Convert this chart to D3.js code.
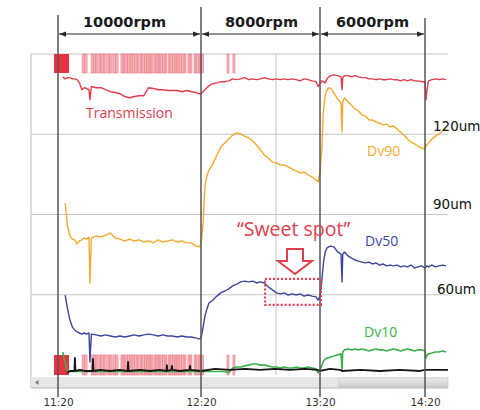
<!DOCTYPE html>
<html>
<head>
<meta charset="utf-8">
<script src="https://cdn.jsdelivr.net/npm/d3@7"></script>
<style>
  html, body { margin: 0; padding: 0; background: #fff; }
  svg { display: block; }
</style>
</head>
<body>
<svg id="chart" width="480" height="410"></svg>
<script>
// Sample times, minutes after 11:20
const minutes = [
  2, 3, 4, 5, 6, 7, 8, 9, 10, 11, 12, 13, 13.4, 14,
  16, 18, 20, 22, 24, 26, 28, 30, 32, 34, 36, 38, 40, 42, 44, 46, 48, 50, 52, 54, 56, 58,
  59, 60, 61, 62, 63, 64,
  66, 68, 70, 72, 74, 76, 78, 80, 82, 84, 86, 88, 90, 92, 94, 96, 98, 100, 102, 104, 106, 108, 110, 112, 114, 116, 118,
  119, 120, 121, 122, 123, 124, 125, 126,
  128, 130, 132, 132.6, 133,
  134, 136, 138, 140, 142, 144, 146, 148, 150, 152, 154, 156, 158, 160, 162, 164, 166, 168, 170, 172, 174, 176, 178, 180,
  180.6, 181, 182, 184, 186, 188, 190, 192
];

// Laser transmission, %
const transmission = [
  94.3, 93.8, 94.1, 94.1, 93.8, 93.8, 93.6, 92.8, 91.1, 91.6, 91.4, 91.1, 88.6, 91.9,
  91.6, 91.6, 91.1, 90.6, 90.4, 90.1, 89.4, 89.1, 89.4, 89.6, 89.6, 91.6, 91.4, 91.1, 91.1, 90.9, 90.9, 90.9, 90.6, 90.9, 90.6, 90.4,
  90.1, 90.1, 90.6, 91.1, 91.6, 92.1,
  92.6, 92.8, 93.1, 93.1, 93.3, 93.8, 93.6, 93.8, 94.1, 93.6, 93.8, 93.6, 93.8, 94.1, 93.8, 93.6, 93.8, 93.6, 93.8, 93.6, 93.8, 93.6, 93.3, 93.8, 93.6, 93.3, 93.1,
  91.9, 92.6, 93.3, 93.1, 92.8, 93.8, 94.3, 94.6,
  94.8, 94.6, 94.3, 91.1, 94.1,
  94.6, 94.6, 94.3, 94.6, 94.3, 94.1, 94.1, 93.8, 93.8, 93.6, 93.8, 93.6, 93.6, 93.8, 93.6, 93.6, 93.3, 93.6, 93.3, 93.6, 93.3, 93.3, 93.1, 93.1,
  88.6, 90.6, 93.3, 93.6, 93.8, 93.6, 93.8, 93.6
];

// Particle size Dv90, um
const dv90 = [
  null, 94.3, 85.7, 82.0, 80.8, 80.5, 79.0, 80.1, 80.5, 81.2, 80.8, 81.6, 64.4, 81.2,
  82.0, 81.6, 82.3, 83.1, 81.2, 80.8, 80.1, 80.8, 80.1, 80.5, 79.7, 80.1, 79.4, 80.5, 79.7, 80.1, 80.5, 79.7, 80.1, 79.4, 79.4, 78.2,
  77.9, 78.6, 86.1, 100.7, 104.4, 106.6,
  108.9, 112.2, 115.2, 116.7, 118.2, 119.7, 120.5, 120.1, 119.3, 118.6, 117.5, 116.0, 114.1, 112.2, 111.1, 109.6, 109.3, 108.5, 108.5, 107.8, 107.0, 106.3, 105.5, 105.9, 104.8, 104.0, 102.9,
  102.2, 105.9, 114.1, 129.1, 134.7, 136.5, 137.3, 137.3,
  135.4, 133.2, 131.7, 120.8, 132.1,
  133.6, 132.1, 130.9, 129.4, 128.7, 127.2, 126.8, 125.3, 125.3, 124.6, 124.2, 123.5, 123.8, 122.7, 123.1, 122.0, 120.8, 119.7, 118.2, 117.1, 116.4, 115.6, 114.9, 114.5,
  115.6, 116.0, 116.7, 118.2, 119.3, 120.1, 121.2, 122.3
];

// Particle size Dv50, um
const dv50 = [
  null, 59.9, 54.7, 50.6, 48.0, 46.8, 46.1, 45.7, 45.3, 45.7, 45.3, 45.7, 34.9, 45.3,
  45.0, 44.6, 45.0, 44.6, 44.2, 44.6, 44.2, 44.6, 45.0, 44.6, 45.0, 45.3, 45.0, 44.6, 45.0, 44.6, 44.6, 44.2, 44.6, 44.2, 44.2, 43.8,
  43.5, 43.8, 47.6, 52.1, 54.7, 56.9,
  58.0, 59.5, 60.7, 61.4, 62.2, 63.3, 64.0, 64.8, 65.1, 64.8, 65.1, 64.4, 64.8, 64.4, 62.9, 61.8, 60.7, 60.3, 60.7, 59.9, 60.3, 59.9, 60.3, 59.5, 59.9, 59.5, 59.2,
  58.0, 59.5, 64.8, 72.2, 76.0, 77.5, 77.9, 78.2,
  77.9, 76.0, 75.2, 64.8, 75.2,
  76.0, 74.5, 73.7, 73.0, 72.6, 72.2, 71.9, 72.2, 71.5, 71.9, 71.1, 71.5, 70.8, 71.1, 70.8, 71.1, 70.4, 70.8, 70.4, 71.1, 70.0, 70.4, 70.8, 70.0,
  70.4, 70.8, 70.4, 71.1, 70.4, 70.8, 71.1, 70.8
];

// Particle size Dv10, um
const dv10 = [
  38.6, 34.5, 31.1, 31.3, 31.3, 31.3, 31.3, 31.3, 31.3, 31.3, 31.3, 31.3, 31.3, 31.3,
  31.3, 31.3, 31.3, 31.3, 31.3, 31.3, 31.3, 31.3, 31.3, 31.3, 31.3, 31.3, 31.3, 31.3, 31.3, 31.3, 31.3, 31.3, 31.3, 31.3, 31.3, 31.3,
  31.3, 31.3, 31.3, 31.3, 31.3, 31.3,
  31.3, 31.3, 31.3, 31.3, 30.8, 32.6, 33.0, 33.0, 33.4, 33.7, 34.1, 34.1, 33.7, 33.7, 33.4, 33.0, 33.0, 32.6, 33.0, 32.6, 32.6, 33.0, 32.6, 32.6, 33.0, 32.6, 32.3,
  30.8, 31.9, 33.4, 35.2, 36.0, 36.4, 36.4, 36.7,
  37.1, 37.5, 37.9, 31.9, 38.6,
  39.4, 39.7, 39.4, 39.7, 39.4, 39.7, 39.4, 39.0, 39.4, 39.7, 39.4, 39.4, 39.0, 39.4, 39.7, 39.4, 39.0, 39.4, 39.7, 39.4, 39.0, 39.4, 39.4, 39.0,
  36.4, 37.1, 37.9, 38.2, 38.6, 38.6, 39.0, 38.6
];

// Baseline trace (own sampling)
const baseMinutes = [3.8, 5.0, 6.7, 6.9, 7.1, 7.3, 9.2, 11.3, 14.3, 14.5, 14.7, 14.9, 17.6, 21.8, 26.0, 29.0, 29.2, 29.4, 29.6,
  34.4, 38.6, 42.8, 45.3, 45.5, 45.7, 45.9, 47.4, 47.6, 47.8, 48.0, 51.2, 55.0, 55.2, 55.4, 55.6, 60, 67.1, 74.6, 82.2,
  89.8, 97.3, 104.9, 112.4, 119.0, 120, 125.7, 131.4, 132.6, 142.9, 154.3, 165.7, 177.1, 180, 188.6, 193.1];
const baseValues = [30.8, 31.5, 31.5, 31.5, 36.4, 31.5, 31.9, 31.5, 31.5, 31.5, 36.0, 31.5, 31.9, 31.5, 31.9, 31.5, 31.5, 34.9, 31.5,
  31.9, 31.5, 31.9, 31.5, 31.5, 33.7, 31.5, 31.9, 31.9, 33.4, 31.9, 31.5, 31.9, 31.9, 33.4, 31.9, 31.5, 32.3, 31.9, 32.3,
  31.9, 32.3, 31.9, 32.3, 31.9, 31.5, 32.3, 31.9, 31.5, 31.9, 31.5, 31.9, 31.5, 31.9, 31.9, 31.9];

// Event flags, [start, end] in minutes
const startBlock = [-1.7, 4.6];
const flagSpans = [
  [10.1, 11.1], [11.1, 12.2], [13.9, 14.9], [14.9, 15.9], [15.9, 16.8], [17.2, 18.0], [18.0, 19.3], [19.3, 20.6],
  [21.0, 21.8], [21.8, 22.7], [23.1, 24.1], [24.1, 25.2], [26.4, 27.3], [27.3, 28.1], [28.1, 29.2], [29.2, 30.2],
  [30.2, 31.1], [31.1, 32.1], [32.1, 33.2], [33.2, 34.0], [34.4, 35.2], [35.2, 36.3], [36.3, 37.3], [37.3, 38.2],
  [38.2, 39.0], [39.0, 39.9], [40.3, 41.1], [41.1, 42.0], [42.0, 42.8], [42.8, 43.9], [43.9, 44.9], [44.9, 45.7],
  [46.2, 47.0], [47.0, 48.0], [48.0, 49.1], [49.1, 49.9], [49.9, 50.8], [50.8, 51.8], [51.8, 52.9], [52.9, 53.7],
  [54.5, 55.4], [55.4, 56.2], [57.1, 57.9], [57.9, 59.0], [59.2, 60.0], [60.0, 61.3], [73.1, 74.1], [76.1, 77.1]
];

const stageTimes = [0, 60, 120, 180];
const stageNames = ["10000rpm", "8000rpm", "6000rpm"];
const tickLabels = ["11:20", "12:20", "13:20", "14:20"];
const gridSizes = [150, 120, 90, 60];
const sizeLabels = [120, 90, 60];
const gridMinute = 97.8;
const sweetSpot = { from: 92.3, to: 120.5, low: 56.2, high: 65.9 };

const colors = {
  transmission: "#e23c4c",
  dv90: "#f2aa2e",
  dv50: "#3b46a3",
  dv10: "#3cb04a",
  base: "#151515",
  flag: "#f5a6ae",
  flagEdge: "#ec7c88",
  block: "#e8323f",
  marker: "#555555",
  grid: "#c6c6c6",
  note: "#e0404c"
};

const svg = d3.select("#chart");

// Piecewise time axis: stage boundaries fall on the hour labels
const x = d3.scaleLinear().domain(stageTimes).range([58, 201, 320, 425]);
const y = d3.scaleLinear().domain([30, 150]).range([375, 54]);
const yT = d3.scaleLinear().domain([80, 100]).range([y(120), y(150)]);

const left = 31, right = 448, bottom = 388;

// Frame and grid
const grid = svg.append("g");
grid.selectAll("line.h").data(gridSizes).join("line")
  .attr("x1", left).attr("x2", right)
  .attr("y1", d => y(d)).attr("y2", d => y(d))
  .attr("stroke", colors.grid).attr("stroke-width", 1);
grid.append("line")
  .attr("x1", x(gridMinute)).attr("x2", x(gridMinute))
  .attr("y1", y(150)).attr("y2", y(30))
  .attr("stroke", colors.grid).attr("stroke-width", 1);
grid.append("line")
  .attr("x1", left).attr("x2", left).attr("y1", y(150)).attr("y2", bottom)
  .attr("stroke", colors.grid).attr("stroke-width", 1.2);

// Scroll bar strip under the plot
const sb = svg.append("g");
sb.append("rect").attr("x", left).attr("y", 377).attr("width", right - left).attr("height", bottom - 377)
  .attr("fill", "#e6e6e6");
const grad = svg.append("defs").append("linearGradient").attr("id", "thumb")
  .attr("x1", 0).attr("y1", 0).attr("x2", 0).attr("y2", 1);
grad.append("stop").attr("offset", "0%").attr("stop-color", "#ededed");
grad.append("stop").attr("offset", "100%").attr("stop-color", "#cbcbcb");
sb.append("rect").attr("x", 339).attr("y", 378).attr("width", right - 339).attr("height", 9)
  .attr("fill", "url(#thumb)").attr("stroke", "#c2c2c2").attr("stroke-width", 0.6);
sb.append("path").attr("d", "M35,382.5 L38.5,380 L38.5,385 Z").attr("fill", "#777");
sb.append("line").attr("x1", left).attr("x2", right).attr("y1", bottom).attr("y2", bottom)
  .attr("stroke", "#b8b8b8").attr("stroke-width", 1.2);

// Event flags: top and bottom strips
const rows = [[y(150), 19], [355, 20]];
const flags = svg.append("g");
rows.forEach(([top, h]) => {
  flags.append("g").selectAll("rect").data(flagSpans).join("rect")
    .attr("x", d => x(d[0])).attr("width", d => x(d[1]) - x(d[0]))
    .attr("y", top).attr("height", h)
    .attr("fill", colors.flag).attr("fill-opacity", 0.85)
    .attr("stroke", colors.flagEdge).attr("stroke-width", 0.6);
  flags.append("rect")
    .attr("x", x(startBlock[0])).attr("width", x(startBlock[1]) - x(startBlock[0]))
    .attr("y", top).attr("height", h)
    .attr("fill", colors.block);
});

// Traces
const clip = svg.append("defs").append("clipPath").attr("id", "plot");
clip.append("rect").attr("x", left).attr("y", y(150)).attr("width", right - left).attr("height", y(30) - y(150));
const traces = svg.append("g").attr("clip-path", "url(#plot)").attr("fill", "none")
  .attr("stroke-linejoin", "round");

const line = scale => d3.line()
  .defined(d => d[1] != null)
  .x(d => x(d[0])).y(d => scale(d[1]));

const zip = vals => minutes.map((t, i) => [t, vals[i]]);

traces.append("path").datum(zip(dv10)).attr("d", line(y))
  .attr("stroke", colors.dv10).attr("stroke-width", 1.6);
traces.append("path").datum(baseMinutes.map((t, i) => [t, baseValues[i]])).attr("d", line(y))
  .attr("stroke", colors.base).attr("stroke-width", 1.8);
traces.append("path").datum(zip(dv50)).attr("d", line(y))
  .attr("stroke", colors.dv50).attr("stroke-width", 1.4);
traces.append("path").datum(zip(dv90)).attr("d", line(y))
  .attr("stroke", colors.dv90).attr("stroke-width", 1.4);
traces.append("path").datum(zip(transmission)).attr("d", line(yT))
  .attr("stroke", colors.transmission).attr("stroke-width", 1.4);

// Stage boundary markers
const markerTops = [15, 7, 7, 18];
svg.append("g").selectAll("line").data(stageTimes).join("line")
  .attr("x1", d => x(d)).attr("x2", d => x(d))
  .attr("y1", (d, i) => markerTops[i]).attr("y2", 397)
  .attr("stroke", colors.marker).attr("stroke-width", 1.5);

// Stage span arrows and labels
const defs = svg.append("defs");
defs.append("marker").attr("id", "head")
  .attr("viewBox", "0 0 8 6").attr("refX", 8).attr("refY", 3)
  .attr("markerWidth", 7).attr("markerHeight", 6).attr("markerUnits", "userSpaceOnUse")
  .attr("orient", "auto-start-reverse")
  .append("path").attr("d", "M0,0 L8,3 L0,6 Z").attr("fill", "#2a2a2a");

const stages = stageNames.map((name, i) => ({ name, from: stageTimes[i], to: stageTimes[i + 1] }));
const nameShift = [-5, 1, 0];
const st = svg.append("g");
st.selectAll("line").data(stages).join("line")
  .attr("x1", d => x(d.from) + 1).attr("x2", d => x(d.to) - 1)
  .attr("y1", 34).attr("y2", 34)
  .attr("stroke", "#2a2a2a").attr("stroke-width", 1.2)
  .attr("marker-start", "url(#head)").attr("marker-end", "url(#head)");
st.selectAll("text").data(stages).join("text")
  .attr("x", (d, i) => (x(d.from) + x(d.to)) / 2 + nameShift[i])
  .attr("y", 27)
  .attr("text-anchor", "middle")
  .attr("font-family", "DejaVu Sans, sans-serif")
  .attr("font-weight", "bold").attr("font-size", 14.5)
  .attr("fill", "#1a1a1a")
  .text(d => d.name);

// Time axis
const axis = d3.axisBottom(x).tickValues(stageTimes)
  .tickFormat((d, i) => tickLabels[i]).tickSize(0).tickPadding(0);
const ax = svg.append("g").attr("transform", "translate(0,399)").call(axis);
ax.select(".domain").remove();
ax.selectAll("text").attr("font-family", "DejaVu Sans, sans-serif").attr("font-size", 10.5).attr("fill", "#333");

// Size labels on the right
const labelNudge = [[0, -3], [0, -6], [4, -1]];
svg.append("g").selectAll("text").data(sizeLabels).join("text")
  .attr("x", (d, i) => 433 + labelNudge[i][0])
  .attr("y", (d, i) => y(d) + labelNudge[i][1])
  .attr("font-family", "DejaVu Sans, sans-serif").attr("font-size", 13.5)
  .attr("fill", "#111")
  .text(d => d + "um");

// Series names
const names = [
  { text: "Transmission", x: 86, y: 118, color: colors.transmission },
  { text: "Dv90", x: 367, y: 156, color: colors.dv90 },
  { text: "Dv50", x: 365, y: 246, color: colors.dv50 },
  { text: "Dv10", x: 364, y: 337, color: colors.dv10 }
];
svg.append("g").selectAll("text").data(names).join("text")
  .attr("x", d => d.x).attr("y", d => d.y)
  .attr("font-family", "Open Sans, sans-serif").attr("font-size", 14)
  .attr("fill", d => d.color)
  .text(d => d.text);

// Sweet spot callout
const ss = svg.append("g");
ss.append("rect")
  .attr("x", x(sweetSpot.from)).attr("y", y(sweetSpot.high))
  .attr("width", x(sweetSpot.to) - x(sweetSpot.from))
  .attr("height", y(sweetSpot.low) - y(sweetSpot.high))
  .attr("fill", "none").attr("stroke", colors.note)
  .attr("stroke-width", 2.2).attr("stroke-dasharray", "2,2");
const ax0 = 295;
ss.append("path")
  .attr("d", `M${ax0 - 8},249 H${ax0 + 8} V261 H${ax0 + 17} L${ax0},274 L${ax0 - 17},261 H${ax0 - 8} Z`)
  .attr("fill", "#fff").attr("stroke", colors.note).attr("stroke-width", 2)
  .attr("stroke-linejoin", "miter");
ss.append("text")
  .attr("x", 237).attr("y", 236)
  .attr("font-family", "Open Sans, sans-serif").attr("font-size", 19.5)
  .attr("fill", colors.note)
  .text("\u201CSweet spot\u201D");
</script>
</body>
</html>
